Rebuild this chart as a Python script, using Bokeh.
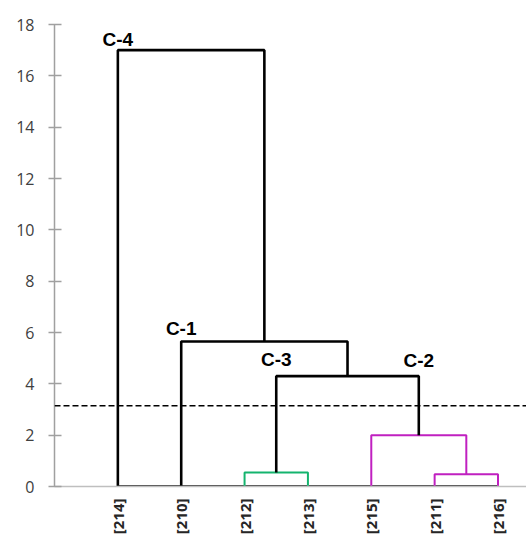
from bokeh.plotting import figure
from bokeh.models import Range1d, FixedTicker, Span
from bokeh.core.properties import value
from bokeh.embed import file_html
from bokeh.resources import INLINE

# ---- data ----
leaves = ["[214]", "[210]", "[212]", "[213]", "[215]", "[211]", "[216]"]
merge_name = ["A", "B", "C", "D", "E", "F"]
merge_left = ["[212]", "[211]", "[215]", "A", "[210]", "[214]"]
merge_right = ["[213]", "[216]", "B", "C", "D", "E"]
merge_height = [0.55, 0.48, 2.0, 4.3, 5.65, 17.0]
cut_height = 3.15
y_ticks = [0, 2, 4, 6, 8, 10, 12, 14, 16, 18]
cluster_labels = ["C-4", "C-1", "C-3", "C-2"]
label_node = ["[214]", "[210]", "A", "C"]
label_merge = ["F", "E", "D", "D"]

# ---- styles ----
link_colors = ["#14B46E", "#C020C0", "#C020C0", "black", "black", "black"]
link_widths = [2, 2, 2, 2.6, 2.6, 2.6]
label_gap_px = [11, 13, 17, 16]

# ---- layout of the tree ----
pos = {name: (i + 1, 0.0) for i, name in enumerate(leaves)}
xs, ys = [], []
for n, l, r, h in zip(merge_name, merge_left, merge_right, merge_height):
    (xl, yl), (xr, yr) = pos[l], pos[r]
    xs.append([xl, xl, xr, xr])
    ys.append([yl, h, h, yr])
    pos[n] = ((xl + xr) / 2, h)

p = figure(width=526, height=537, output_backend="svg", toolbar_location=None,
           x_range=Range1d(0, 7.45), y_range=Range1d(0, 18),
           min_border_left=54, min_border_right=0, min_border_top=24,
           min_border_bottom=50)
p.outline_line_color = None
p.xgrid.visible = False
p.ygrid.visible = False

# baseline along leaves
p.segment(x0=[1], y0=[0], x1=[len(leaves)], y1=[0], line_color="black", line_width=2.4)

p.multi_line(xs=xs, ys=ys, line_color=link_colors, line_width=link_widths)

p.add_layout(Span(location=cut_height, dimension="width", line_color="black",
                  line_width=1.5, line_dash="6 3"))

px_per_unit = 463 / 18.0
heights = dict(zip(merge_name, merge_height))
for t, n, m, g in zip(cluster_labels, label_node, label_merge, label_gap_px):
    p.text(x=[pos[n][0]], y=[heights[m] + g / px_per_unit], text=[t],
           text_align="center", text_baseline="alphabetic",
           text_font=value("Liberation Sans"), text_font_style="bold",
           text_font_size="19px", text_color="black")

# y axis
p.yaxis.ticker = FixedTicker(ticks=y_ticks)
p.yaxis.axis_line_color = "#A0A0A0"
p.yaxis.axis_line_width = 1.5
p.yaxis.major_tick_line_color = "#A0A0A0"
p.yaxis.major_tick_line_width = 1.5
p.yaxis.major_tick_out = 6
p.yaxis.major_tick_in = 7
p.yaxis.minor_tick_line_color = None
p.yaxis.major_label_standoff = 14
p.yaxis.major_label_text_font = "Open Sans"
p.yaxis.major_label_text_font_size = "16px"
p.yaxis.major_label_text_color = "#404040"

# x axis
p.xaxis.ticker = FixedTicker(ticks=list(range(1, len(leaves) + 1)))
p.xaxis.major_label_overrides = {i + 1: name for i, name in enumerate(leaves)}
p.xaxis.major_label_orientation = 3.14159265 / 2
p.xaxis.axis_line_color = "#BFBFBF"
p.xaxis.axis_line_width = 1.5
p.xaxis.major_tick_line_color = None
p.xaxis.minor_tick_line_color = None
p.xaxis.major_label_standoff = 6
p.xaxis.major_label_text_font = "Open Sans"
p.xaxis.major_label_text_font_style = "bold"
p.xaxis.major_label_text_font_size = "15px"
p.xaxis.major_label_text_color = "#262626"

open("out.html", "w").write(file_html(p, INLINE))
